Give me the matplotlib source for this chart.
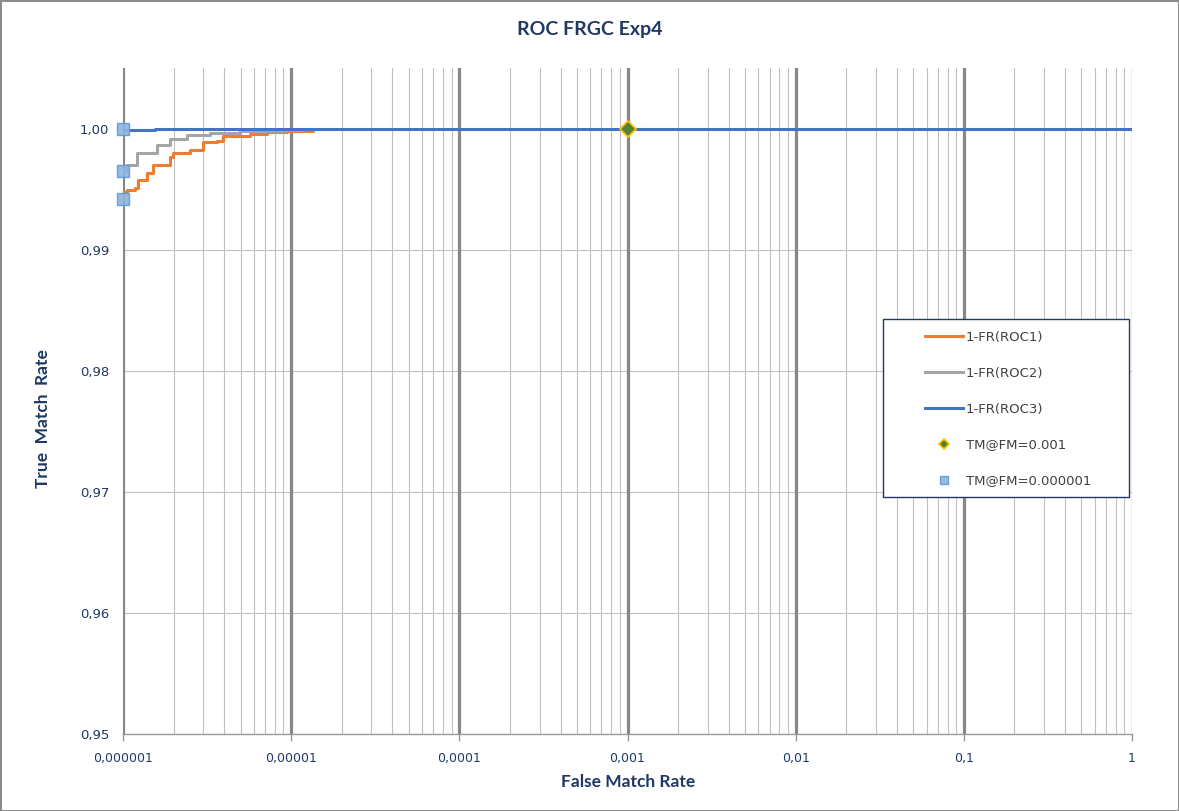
import matplotlib
matplotlib.use("Agg")
import matplotlib.pyplot as plt
from matplotlib.ticker import FixedLocator, NullFormatter, FixedFormatter
from matplotlib.patches import Rectangle

# ---- data ----
roc1_fmr = [1.0e-6, 1.0e-6, 1.06e-6, 1.18e-6, 1.23e-6, 1.39e-6, 1.51e-6, 1.90e-6, 1.98e-6,
            2.50e-6, 2.99e-6, 3.62e-6, 3.93e-6, 5.69e-6, 7.18e-6, 9.44e-6, 1.35e-5]
roc1_tmr = [0.99421, 0.99480, 0.99496, 0.99512, 0.99579, 0.99636, 0.99702, 0.99769, 0.99802,
            0.99826, 0.99893, 0.99901, 0.99942, 0.99959, 0.99975, 0.99983, 0.99995]
roc2_fmr = [1.0e-6, 1.06e-6, 1.21e-6, 1.59e-6, 1.90e-6, 2.40e-6, 3.29e-6, 4.96e-6, 8.94e-6, 1.2e-5]
roc2_tmr = [0.99653, 0.99702, 0.99802, 0.99868, 0.99917, 0.99950, 0.99967, 0.99983, 0.99992, 0.99998]
roc3_fmr = [1.0e-6, 1.55e-6, 1.0]
roc3_tmr = [0.99990, 1.00000, 1.00000]
pt001_fmr = [0.001]
pt001_tmr = [1.000]
pt6_fmr = [1e-6, 1e-6, 1e-6]
pt6_tmr = [1.000, 0.99653, 0.99421]

x_ticks = [1e-6, 1e-5, 1e-4, 1e-3, 1e-2, 1e-1, 1]
x_labels = ["0,000001", "0,00001", "0,0001", "0,001", "0,01", "0,1", "1"]
y_ticks = [0.95, 0.96, 0.97, 0.98, 0.99, 1.00]
y_labels = ["0,95", "0,96", "0,97", "0,98", "0,99", "1,00"]

navy = "#1F3864"
W, H = 1179, 811
fig = plt.figure(figsize=(W / 100, H / 100), dpi=100)
fig.patch.set_edgecolor("#8c8c8c")
fig.patch.set_linewidth(2)
ax = fig.add_axes([123 / W, 77 / H, (1132 - 123) / W, (734 - 68) / H])
ax.set_xscale("log")
ax.set_xlim(1e-6, 1)
ax.set_ylim(0.95, 1.00504)

# grid
minor = []
for d in range(-6, 0):
    for m in range(2, 10):
        minor.append(m * 10.0 ** d)
for v in minor:
    ax.axvline(v, color="#c0c0c0", lw=0.8, zorder=0)
for v in x_ticks[:-1]:
    ax.axvline(v, color="#878787", lw=2.3, zorder=1)
ax.axvline(1, color="#878787", lw=0.9, zorder=1)
for v in y_ticks[1:]:
    ax.axhline(v, color="#c0c0c0", lw=0.8, zorder=0)

ax.plot(roc1_fmr, roc1_tmr, color="#ED7D31", lw=2.2, drawstyle="steps-post", zorder=3, label="1-FR(ROC1)")
ax.plot(roc2_fmr, roc2_tmr, color="#A5A5A5", lw=2.2, drawstyle="steps-post", zorder=3, label="1-FR(ROC2)")
ax.plot(roc3_fmr, roc3_tmr, color="#4472C4", lw=2.2, drawstyle="steps-post", zorder=4, label="1-FR(ROC3)")
ax.plot(pt001_fmr, pt001_tmr, ls="none", marker="D", ms=8, mfc="#548235", mec="#FFC000", mew=1.2,
        zorder=6, label="TM@FM=0.001", clip_on=False)
ax.plot(pt6_fmr, pt6_tmr, ls="none", marker="s", ms=9, mfc="#8DB4E2", mec="#5B9BD5", mew=1.0,
        alpha=0.9, zorder=6, label="TM@FM=0.000001", clip_on=False)

for s in ["top", "right", "left"]:
    ax.spines[s].set_visible(False)
ax.spines["bottom"].set_color("#999999")
ax.spines["bottom"].set_linewidth(1.0)

ax.xaxis.set_major_locator(FixedLocator(x_ticks))
ax.xaxis.set_major_formatter(FixedFormatter(x_labels))
ax.xaxis.set_minor_locator(FixedLocator([]))
ax.xaxis.set_minor_formatter(NullFormatter())
ax.set_yticks(y_ticks)
ax.set_yticklabels(y_labels)
ax.tick_params(axis="x", length=5, width=1, color="#999999", labelcolor=navy, labelsize=9, pad=8)
ax.tick_params(axis="y", length=0, labelcolor=navy, labelsize=9.5, pad=10)

fig.text(0.5, 1 - 30 / H, "ROC FRGC Exp4", ha="center", va="center", fontsize=14,
         fontweight="bold", color=navy, family="Lato")
fig.text(628 / W, 1 - 782 / H, "False Match Rate", ha="center", va="center", fontsize=12.5,
         fontweight="bold", color=navy, family="Lato")
fig.text(43 / W, 1 - 419 / H, "True  Match  Rate", ha="center", va="center", fontsize=12.5,
         fontweight="bold", color=navy, rotation=90, family="Lato")

# legend frame
fig.add_artist(Rectangle((883 / W, 1 - 497 / H), 246 / W, 178 / H, transform=fig.transFigure,
                         fill=True, facecolor="white", edgecolor=navy, lw=1.0, zorder=7))
leg = fig.legend(*ax.get_legend_handles_labels(), loc="upper left",
                 bbox_to_anchor=(925 / W, 1 - 331 / H), frameon=False, fontsize=9.5,
                 labelspacing=1.73, handlelength=2.9, borderpad=0, handletextpad=0.2,
                 borderaxespad=0, markerscale=0.7)
leg.set_zorder(8)
for t in leg.get_texts():
    t.set_color("#404040")

fig.savefig("out.png", dpi=100, edgecolor=fig.get_edgecolor())
